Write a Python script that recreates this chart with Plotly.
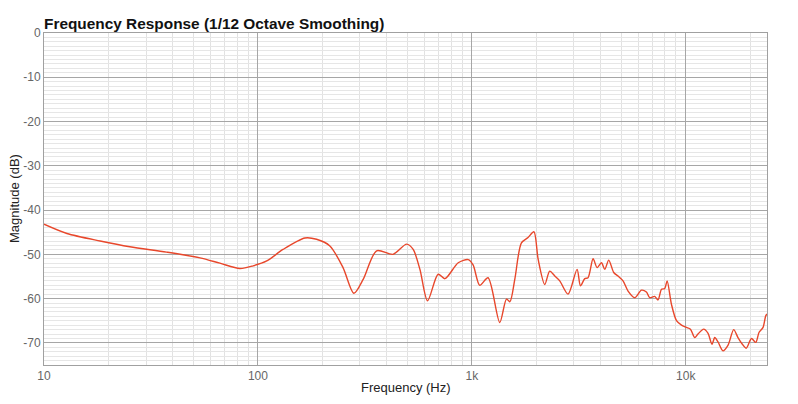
import plotly.graph_objects as go

# Frequency (Hz) and magnitude (dB)
freq = [10, 12.8, 18.3, 25.2, 37.4, 53.6, 66.4, 82.4, 95, 110, 131, 166, 188, 217,
        250, 281, 311, 359, 428, 496, 532, 572, 621, 696, 749, 864, 962, 1014,
        1089, 1191, 1351, 1452, 1507, 1589, 1706, 1832, 1951, 2042, 2193, 2313,
        2443, 2577, 2818, 3105, 3221, 3374, 3494, 3690, 3852, 4038, 4183, 4367,
        4608, 4826, 5093, 5376, 5784, 6206, 6549, 6785, 7161, 7424, 7704, 7983,
        8186, 8577, 9057, 9556, 10070, 10520, 11020, 11410, 12130, 12700, 13270,
        13670, 14160, 14930, 15780, 16760, 17550, 18400, 19210, 20290, 21250,
        22030, 22990, 23660, 24000]
mag = [-43.2, -45.3, -47.0, -48.3, -49.5, -50.8, -52.0, -53.2, -52.6, -51.5,
       -48.9, -46.3, -46.6, -48.1, -53.0, -58.8, -55.6, -49.2, -50.0, -47.7,
       -48.9, -53.4, -60.5, -54.5, -55.5, -51.9, -51.2, -52.4, -57.0, -55.3,
       -65.4, -60.1, -60.7, -55.6, -47.4, -46.2, -44.9, -51.1, -56.8, -53.8,
       -54.9, -56.0, -59.0, -53.4, -57.1, -55.5, -55.3, -51.0, -53.0, -51.9,
       -53.4, -51.3, -54.1, -54.9, -56.0, -58.3, -59.8, -58.1, -58.5, -59.8,
       -59.5, -60.3, -57.9, -57.7, -56.0, -61.3, -65.0, -66.0, -66.5, -66.9,
       -68.8, -68.0, -66.9, -67.8, -70.3, -68.8, -69.8, -71.8, -70.5, -67.0,
       -68.8, -70.3, -71.2, -69.0, -69.9, -67.6, -66.5, -63.9, -63.5]

x_tickvals = [10, 100, 1000, 10000]
x_ticktext = ["10", "100", "1k", "10k"]
y_tickvals = [0, -10, -20, -30, -40, -50, -60, -70]
y_ticktext = ["0", "-10", "-20", "-30", "-40", "-50", "-60", "-70"]

# plot area in pixels
L, R, T, B = 44, 767, 33, 365
W, H = 798, 404

fig = go.Figure()

fig.add_trace(go.Scatter(
    x=freq, y=mag,
    mode="lines",
    line=dict(color="#e8472b", width=1.4, shape="spline", smoothing=0.8),
    showlegend=False,
))

fig.update_layout(
    width=W, height=H,
    margin=dict(l=L, r=W - R, t=T, b=H - B, autoexpand=False),
    paper_bgcolor="white",
    plot_bgcolor="white",
    font=dict(family="Liberation Sans, Arial, sans-serif", color="#666666", size=12),
    title=dict(
        text="<b>Frequency Response (1/12 Octave Smoothing)</b>",
        x=L / W, xanchor="left",
        y=1 - 24 / H, yanchor="middle",
        font=dict(size=15.4, color="#111111"),
    ),
    annotations=[
        # axis titles placed in pixels relative to the plot area
        dict(text="Frequency (Hz)", xref="paper", yref="paper",
             x=0.5, y=-(387 - B) / (B - T), yanchor="middle",
             showarrow=False, font=dict(size=13, color="#222222")),
        dict(text="Magnitude (dB)", textangle=-90, xref="paper", yref="paper",
             x=-(L - 14) / (R - L), y=0.5, xanchor="center",
             showarrow=False, font=dict(size=13, color="#222222")),
    ],
)

fig.update_xaxes(
    type="log",
    range=[1, 4.380],
    tickvals=x_tickvals, ticktext=x_ticktext,
    showgrid=True, gridcolor="#a6a6a6", gridwidth=1,
    minor=dict(dtick="D1", showgrid=True, gridcolor="#e2e2e2", gridwidth=1),
    showline=True, linecolor="#a0a0a0", linewidth=1, mirror=True,
    ticks="", zeroline=False, automargin=False,
)

fig.update_yaxes(
    range=[-75, 0],
    tickvals=y_tickvals, ticktext=y_ticktext,
    showgrid=True, gridcolor="#a6a6a6", gridwidth=1,
    minor=dict(dtick=1, showgrid=True, gridcolor="#e6e6e6", gridwidth=1),
    showline=True, linecolor="#a0a0a0", linewidth=1, mirror=True,
    ticks="", zeroline=False, automargin=False,
)

# drop the browser's default body margin so the figure sits at the page corner
fig.write_html("out.html", config={"displayModeBar": False},
               post_script="document.body.style.margin='0';")
